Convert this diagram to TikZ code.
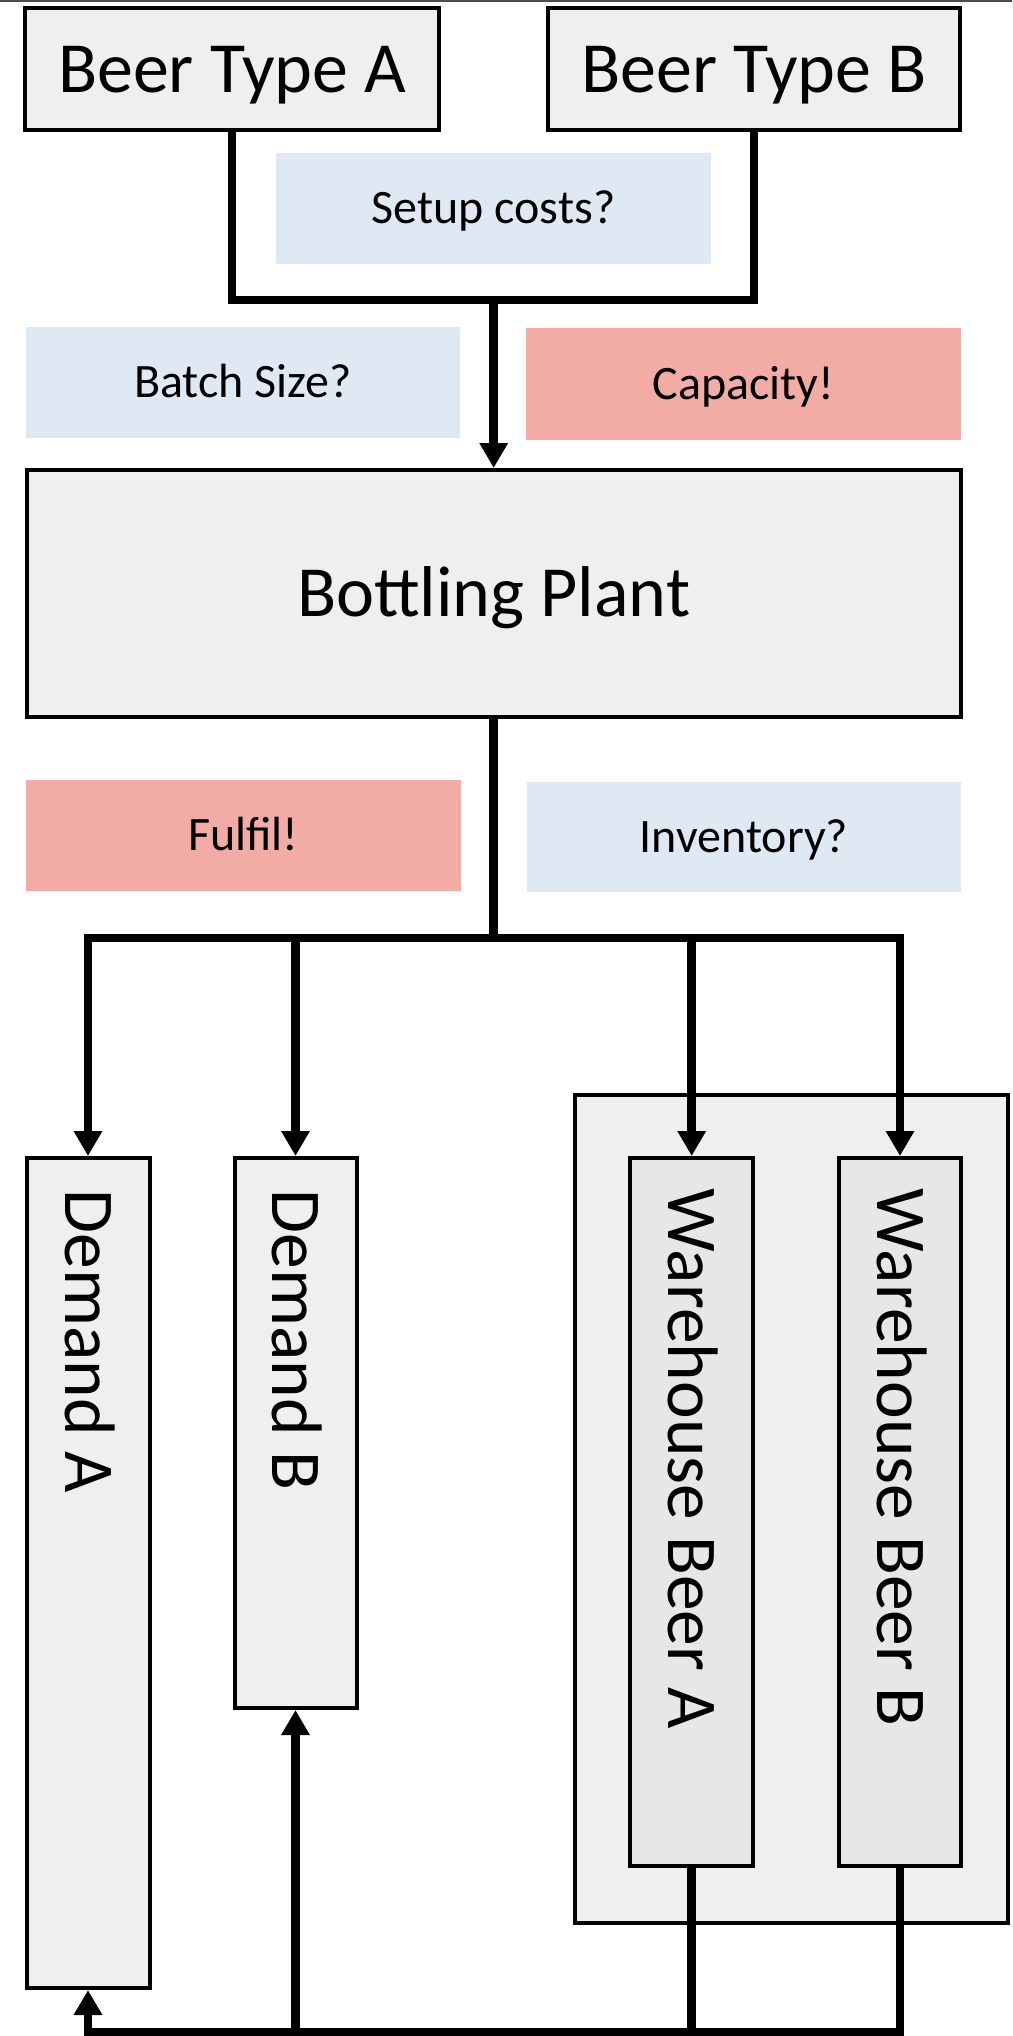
\documentclass[tikz,border=0pt]{standalone}
\usepackage{fontspec}
\setmainfont{Carlito}
\usetikzlibrary{arrows.meta}
\definecolor{boxgray}{HTML}{EFEFEF}
\definecolor{whgray}{HTML}{E7E7E7}
\definecolor{qblue}{HTML}{DFE9F4}
\definecolor{qred}{HTML}{F2ABA5}
\begin{document}
\begin{tikzpicture}[x=1pt,y=-1pt,
 box/.style={draw=black, line width=4pt, fill=boxgray, inner sep=0pt, font=\fontsize{72}{86}\selectfont, text height=46.4pt, text depth=0pt},
 note/.style={inner sep=0pt, font=\fontsize{48}{58}\selectfont, text height=30.9pt, text depth=0pt},
 vlabel/.style={rotate=-90, anchor=west, inner sep=0pt, font=\fontsize{71.5}{86}\selectfont, text height=46pt, text depth=0pt},
 conn/.style={line width=8.5pt, line join=miter},
 tip/.style={-{Triangle[length=25pt,width=27pt]}}
]
\useasboundingbox (0,0) rectangle (1012,2036);
\fill[black!70] (0,0) rectangle (1012,2);

% top boxes
\node[box, minimum width=413.7pt, minimum height=122.5pt] (beerA) at (232.2,69.25) {Beer Type A};
\node[box, minimum width=412pt, minimum height=122.5pt] (beerB) at (754,69.25) {Beer Type B};

% notes
\node[note, fill=qblue, minimum width=435pt, minimum height=111pt] (setup) at (493.5,208.5) {Setup costs?};
\node[note, fill=qblue, minimum width=434pt, minimum height=111pt] (batch) at (243,382.5) {Batch Size?};
\node[note, fill=qred, minimum width=435pt, minimum height=112pt] (cap) at (743.5,384) {Capacity!};
\node[note, fill=qred, minimum width=435pt, minimum height=111pt] (fulfil) at (243.5,835.5) {Fulfil!};
\node[note, fill=qblue, minimum width=434pt, minimum height=110pt] (inv) at (744,837) {Inventory?};

% plant
\node[box, minimum width=934.3pt, minimum height=247pt] (plant) at (493.7,593.5) {Bottling Plant};

% container and bottom boxes
\node[box, minimum width=432.8pt, minimum height=827.7pt] (cont) at (791.1,1509.15) {};
\node[box, minimum width=123pt, minimum height=830pt] (demA) at (88,1573) {};
\node[box, minimum width=122pt, minimum height=550pt] (demB) at (295.5,1433) {};
\node[box, fill=whgray, minimum width=122.7pt, minimum height=708pt] (wA) at (691.7,1512) {};
\node[box, fill=whgray, minimum width=122pt, minimum height=708pt] (wB) at (900,1512) {};

\node[vlabel] (tdemA) at (88,1189.5) {Demand A};
\node[vlabel] (tdemB) at (295.5,1189.5) {Demand B};
\node[vlabel] (twA) at (691.7,1188.5) {Warehouse Beer A};
\node[vlabel] (twB) at (900,1188.5) {Warehouse Beer B};

% connectors
\coordinate (j1) at (493.7,300);
\draw[conn] (beerA.south) |- (j1) -| (beerB.south);
\draw[conn,tip] (j1) -- (plant.north);

\coordinate (j2) at (493.7,938);
\draw[conn] (plant.south) -- (j2);
\draw[conn,tip] (j2) -| (demA.north);
\draw[conn,tip] (j2) -| (demB.north);
\draw[conn,tip] (j2) -| (wA.north);
\draw[conn,tip] (j2) -| (wB.north);

\coordinate (b1) at (88,2031.75);
\draw[conn,tip] (wB.south) |- (b1) -- (demA.south);
\draw[conn] (wA.south) -- (wA.south |- b1);
\draw[conn,tip] (demB.south |- b1) -- (demB.south);
\end{tikzpicture}
\end{document}
